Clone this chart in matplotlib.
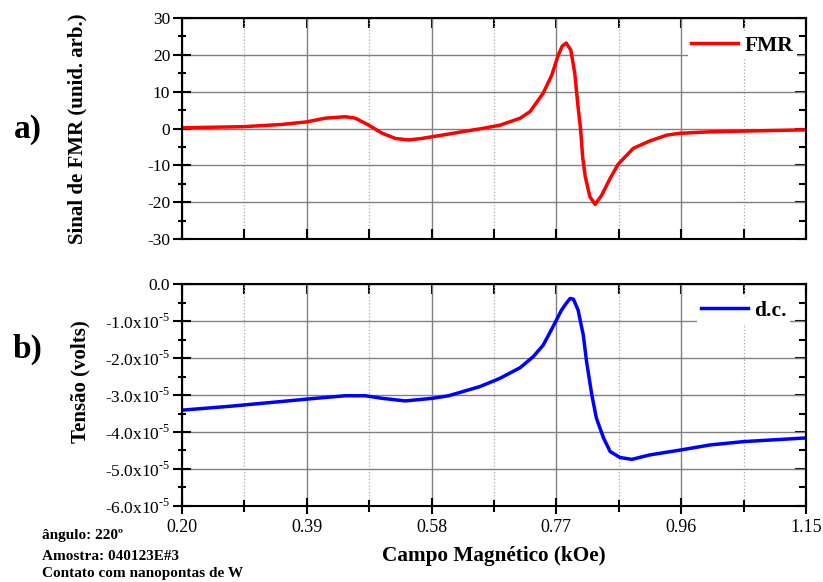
import numpy as np
import matplotlib
matplotlib.use('Agg')
import matplotlib.pyplot as plt
from matplotlib.ticker import FixedLocator, FuncFormatter

plt.rcParams['font.family'] = ['Liberation Serif', 'DejaVu Serif']
plt.rcParams['mathtext.fontset'] = 'custom'
plt.rcParams['mathtext.rm'] = 'Liberation Serif'
plt.rcParams['axes.unicode_minus'] = False

# FMR signal (a)
fmr_field = [0.200, 0.294, 0.352, 0.390, 0.418, 0.449, 0.464, 0.484, 0.505, 0.525,
             0.545, 0.565, 0.596, 0.626, 0.657, 0.684, 0.715, 0.730, 0.750, 0.763,
             0.773, 0.779, 0.785, 0.792, 0.798, 0.803, 0.807, 0.810, 0.814, 0.821,
             0.829, 0.839, 0.852, 0.864, 0.887, 0.897, 0.912, 0.938, 0.958, 1.004,
             1.055, 1.141, 1.150]
fmr_signal = [0.2, 0.5, 1.1, 1.8, 2.8, 3.2, 2.8, 0.95, -1.3, -2.7,
              -3.1, -2.7, -1.8, -0.9, 0.0, 0.9, 2.8, 4.6, 9.6, 14.5,
              20.0, 22.4, 23.2, 21.3, 15.0, 5.9, -0.4, -7.7, -13.1, -18.5,
              -20.6, -18.1, -13.5, -9.7, -5.4, -4.6, -3.4, -1.8, -1.3, -0.9,
              -0.7, -0.4, -0.4]

# d.c. voltage (b), in units of 1e-5 V
dc_field = [0.200, 0.276, 0.367, 0.403, 0.449, 0.479, 0.505, 0.540, 0.581, 0.606,
            0.654, 0.684, 0.715, 0.735, 0.750, 0.765, 0.778, 0.786, 0.791, 0.796,
            0.803, 0.811, 0.816, 0.824, 0.831, 0.842, 0.852, 0.867, 0.885, 0.912,
            0.958, 1.004, 1.055, 1.141, 1.150]
dc_volts = [-3.41, -3.30, -3.15, -3.09, -3.02, -3.02, -3.09, -3.16, -3.09, -3.02,
            -2.77, -2.55, -2.26, -1.96, -1.65, -1.15, -0.70, -0.50, -0.39, -0.41,
            -0.70, -1.38, -2.10, -3.00, -3.63, -4.17, -4.53, -4.69, -4.74, -4.62,
            -4.49, -4.35, -4.26, -4.17, -4.16]

x_major = [0.20, 0.39, 0.58, 0.77, 0.96, 1.15]
x_minor = [0.295, 0.485, 0.675, 0.865, 1.055]

fig = plt.figure(figsize=(8.23, 5.82), dpi=100)
ax1 = fig.add_axes([0.2211, 0.5893, 0.7582, 0.3798])
ax2 = fig.add_axes([0.2211, 0.1306, 0.7582, 0.3814])


def style_axes(ax, bottom_labels):
    ax.set_xlim(0.20, 1.15)
    ax.xaxis.set_major_locator(FixedLocator(x_major))
    ax.xaxis.set_minor_locator(FixedLocator(x_minor))
    ax.grid(which='major', color='#808080', linewidth=1.0)
    ax.grid(which='minor', axis='x', color='#a8a8a8', linestyle=':', linewidth=0.9)
    ax.set_axisbelow(True)
    for sp in ax.spines.values():
        sp.set_linewidth(1.5)
    ax.tick_params(axis='y', which='major', direction='inout', length=13, width=1.5,
                   labelsize=12.5, pad=2)
    ax.tick_params(axis='y', which='minor', direction='inout', length=6, width=1.5)
    if bottom_labels:
        ax.tick_params(axis='x', which='major', direction='inout', length=11, width=1.5,
                       labelsize=13, pad=4)
        ax.tick_params(axis='x', which='minor', direction='inout', length=8, width=1.5)
    else:
        ax.tick_params(axis='x', which='both', direction='in', length=7, width=1.5,
                       labelbottom=False)
    top = ax.secondary_xaxis('top')
    top.xaxis.set_major_locator(FixedLocator(x_major + x_minor))
    top.tick_params(direction='in', length=7, width=1.5, labeltop=False)
    right = ax.secondary_yaxis('right')
    right.yaxis.set_major_locator(FixedLocator(list(ax.get_yticks())))
    right.yaxis.set_minor_locator(ax.yaxis.get_minor_locator())
    right.tick_params(which='major', direction='in', length=8, width=1.5, labelright=False)
    right.tick_params(which='minor', direction='in', length=5, width=1.5)
    for sp in right.spines.values():
        sp.set_linewidth(1.5)


# panel a
ax1.plot(fmr_field, fmr_signal, color='#ff0000', linewidth=2.5, label='FMR',
         solid_joinstyle='round')
ax1.set_ylim(-30, 30)
ax1.yaxis.set_major_locator(FixedLocator(np.arange(-30, 31, 10)))
ax1.yaxis.set_minor_locator(FixedLocator(np.arange(-25, 30, 10)))
style_axes(ax1, False)
ax1.set_ylabel('Sinal de FMR (unid. arb.)', fontsize=15, fontweight='bold')
ax1.yaxis.set_label_coords(-0.151, 0.5)
leg1 = ax1.legend(loc='upper right', bbox_to_anchor=(0.985, 0.935), handlelength=2.2,
                  handletextpad=0.3, borderaxespad=0.0, borderpad=0.15, fancybox=False,
                  framealpha=1, edgecolor='none', prop={'weight': 'bold', 'size': 15.5})

# panel b
dc = np.array(dc_volts) * 1e-5
ax2.plot(dc_field, dc, color='#0000ff', linewidth=2.5, label='d.c.',
         solid_joinstyle='round')
ax2.set_ylim(-6e-5, 0)
ax2.yaxis.set_major_locator(FixedLocator(np.arange(-6, 0.5, 1) * 1e-5))
ax2.yaxis.set_minor_locator(FixedLocator(np.arange(-5.5, 0, 1) * 1e-5))


def volt_fmt(v, pos):
    if abs(v) < 1e-9:
        return '0.0'
    return '%.1fx10$^{\\text{-5}}$' % (v / 1e-5)


ax2.yaxis.set_major_formatter(FuncFormatter(volt_fmt))
ax2.xaxis.set_major_formatter(FuncFormatter(lambda v, p: '%.2f' % v))
style_axes(ax2, True)
ax2.set_ylabel('Tensão (volts)', fontsize=15, fontweight='bold')
ax2.yaxis.set_label_coords(-0.147, 0.56)
ax2.set_xlabel('Campo Magnético (kOe)', fontsize=15.3, fontweight='bold', labelpad=7)
leg2 = ax2.legend(loc='upper right', bbox_to_anchor=(0.975, 0.94), handlelength=2.2,
                  handletextpad=0.3, borderaxespad=0.0, borderpad=0.15, fancybox=False,
                  framealpha=1, edgecolor='none', prop={'weight': 'bold', 'size': 15.5})

fig.text(0.034, 0.777, 'a)', fontsize=24, fontweight='bold', ha='center', va='center')
fig.text(0.034, 0.399, 'b)', fontsize=24, fontweight='bold', ha='center', va='center')
fig.text(0.051, 1 - 536 / 582, 'ângulo: 220º', fontsize=11, fontweight='bold', va='center')
fig.text(0.051, 1 - 556 / 582, 'Amostra: 040123E#3', fontsize=11, fontweight='bold', va='center')
fig.text(0.051, 1 - 574 / 582, 'Contato com nanopontas de W', fontsize=11, fontweight='bold',
         va='center')

fig.savefig('out.png', dpi=100)
